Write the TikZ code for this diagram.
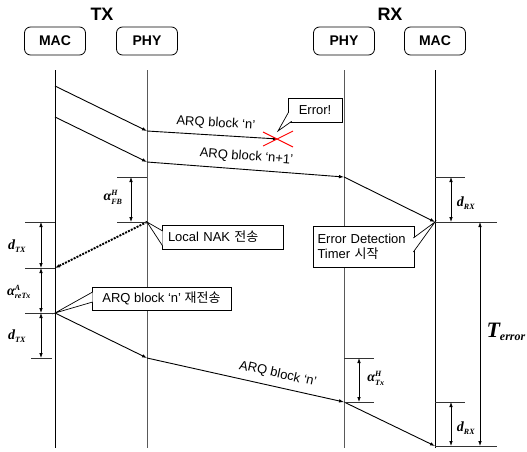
\documentclass[tikz,border=0pt]{standalone}
\usepackage{fontspec}
\setmainfont{Liberation Sans}
\newfontfamily\kr{Noto Sans CJK KR}
\newfontfamily\tms{Liberation Serif}
\usetikzlibrary{arrows.meta,positioning,calc}
\newcommand{\pointer}[3]{%
  \fill[white] (#1) -- (#3) -- (#2) -- cycle;
  \draw[line width=0.7pt] (#1) -- (#3) -- (#2);}
\newcommand{\sml}[1]{\mbox{\fontsize{8}{9}\selectfont\tms\bfseries\itshape #1}}
\newcommand{\dly}[3]{$\mbox{\tms\bfseries\itshape #1}^{\sml{#2}}_{\sml{#3}}$}

\begin{document}
\begin{tikzpicture}[x=1pt,y=-1pt,>={Latex[length=5pt,width=3.6pt]},
  font=\fontsize{13}{15}\selectfont,
  hdr/.style={draw,line width=0.8pt,rounded corners=6pt,minimum width=61pt,minimum height=28pt,font=\fontsize{14}{16}\selectfont\bfseries},
  msg/.style={->,line width=0.9pt},
  tickline/.style={line width=0.7pt,black!80},
  dimline/.style={<->,line width=0.8pt},
  note/.style={draw,fill=white,line width=0.7pt,inner sep=4pt,align=left},
  mlab/.style={font=\fontsize{14}{16}\selectfont,inner sep=1pt}]
\useasboundingbox (0,0) rectangle (527,452);
% titles and entities
\node[font=\fontsize{18}{20}\selectfont\bfseries] (tx) at (102,14) {TX};
\node[font=\fontsize{18}{20}\selectfont\bfseries] (rx) at (390,14) {RX};
\node[hdr] (tmac) at (55,41) {MAC};
\node[hdr] (tphy) at (147,41) {PHY};
\node[hdr] (rphy) at (344,41) {PHY};
\node[hdr] (rmac) at (435,41) {MAC};
% lifelines
\coordinate (bot) at (0,448);
\foreach \n/\c in {tmac/black,tphy/black!65,rphy/black!65,rmac/black}
  \draw[line width=0.8pt,\c] ($(\n.south)+(0,15)$) -- (\n |- bot);
% events on the lifelines
\coordinate (a1) at (55,86);   \coordinate (b1) at (147,131);
\coordinate (a2) at (55,117);  \coordinate (b2) at (147,162);
\coordinate (lost) at (278,139);
\coordinate (c2) at (344,177); \coordinate (d2) at (435,222);
\coordinate (b3) at (147,222); \coordinate (a3) at (55,268);
\coordinate (a4) at (55,313);  \coordinate (b4) at (147,358);
\coordinate (c4) at (344,402); \coordinate (d4) at (435,446);
% callouts
\node[note,minimum width=54pt,minimum height=24pt] (errn) at (315,110) {Error!};
\pointer{$(errn.west)+(1,2)$}{$(errn.south west)+(4,-1)$}{$(lost)+(0,-8)$}
\node[note,minimum width=121pt,minimum height=24pt,text width=109pt] (nak) at (222.5,237) {Local NAK {\kr 전송}};
\pointer{$(nak.west)+(1,-6)$}{$(nak.west)+(1,9)$}{b3}
\node[note,minimum width=101pt,minimum height=41pt,text width=92pt] (edt) at (363.5,246.5) {Error Detection\\Timer {\kr 시작}};
\pointer{$(edt.east)+(-1,-8.5)$}{$(edt.east)+(-1,5.5)$}{d2}
\node[note,minimum width=139pt,minimum height=23pt] (rtx) at (161.5,298.5) {ARQ block ‘n’ {\kr 재전송}};
\pointer{$(rtx.west)+(1,-6.5)$}{$(rtx.west)+(1,3.5)$}{a4}
% messages
\draw[msg] (a1) -- (b1);
\draw[msg] (b1) -- (lost) node[pos=0.52,above=2pt,sloped] (lbl1) {ARQ block ‘n’};
\draw[msg] (a2) -- (b2);
\draw[msg] (b2) -- (c2) node[pos=0.5,above=3pt,sloped] (lbl2) {ARQ block ‘n+1’};
\draw[msg] (c2) -- (d2);
\draw[->,line width=1.8pt,dash pattern=on 2pt off 1.2pt] (b3) -- (a3);
\draw[msg] (a4) -- (b4);
\draw[msg] (b4) -- (c4) node[pos=0.65,above=3pt,sloped] (lbl3) {ARQ block ‘n’};
\draw[msg] (c4) -- (d4);
\draw[red,line width=0.9pt] ($(lost)+(-15,-7)$) -- ($(lost)+(15,8)$)
  ($(lost)+(-15,7)$) -- ($(lost)+(15,-8)$);
% delays at TX
\draw[tickline] ($(b2|-c2)+(-30,0)$) -- (b2|-c2);
\draw[tickline] ($(b3)+(-30,0)$) -- (b3);
\draw[dimline] ($(b2|-c2)+(-16,0)$) -- ($(b3)+(-16,0)$);
\node[mlab] (afb) at (113,197) {\dly{α}{H}{FB}};
\draw[tickline] ($(a1|-b3)+(-30,0)$) -- (a1|-b3);
\draw[tickline] ($(a3)+(-30,0)$) -- (a3);
\draw[tickline] ($(a4)+(-30,0)$) -- (a4);
\draw[tickline] ($(a1|-b4)+(-24,0)$) -- ($(a1|-b4)+(-3,0)$);
\draw[dimline] ($(a1|-b3)+(-14,0)$) -- ($(a3)+(-14,0)$);
\draw[dimline] ($(a3)+(-14,0)$) -- ($(a4)+(-14,0)$);
\draw[dimline] ($(a4)+(-14,0)$) -- ($(a1|-b4)+(-14,0)$);
\node[mlab] (dtx1) at (17,246) {\dly{d}{}{TX}};
\node[mlab] (artx) at (19,292) {\dly{α}{A}{reTx}};
\node[mlab] (dtx2) at (17,336) {\dly{d}{}{TX}};
% delays at RX
\draw[tickline] (d2|-c2) -- ++(30,0);
\draw[tickline] (d2) -- ++(62,0);
\draw[tickline] (d2|-c4) -- ++(30,0);
\draw[tickline] (d4) -- ++(62,0);
\draw[tickline] (c4|-b4) -- ++(30,0);
\draw[tickline] (c4) -- ++(30,0);
\draw[dimline] ($(d2|-c2)+(16,0)$) -- ($(d2)+(16,0)$);
\draw[dimline] ($(d2|-c4)+(16,0)$) -- ($(d4)+(16,0)$);
\draw[dimline] ($(d2)+(45,0)$) -- ($(d4)+(45,0)$);
\draw[dimline] ($(c4|-b4)+(15,0)$) -- ($(c4)+(15,0)$);
\node[mlab] (drx1) at (466,203) {\dly{d}{}{RX}};
\node[mlab] (drx2) at (466,428) {\dly{d}{}{RX}};
\node[mlab] (atx) at (376,378) {\dly{α}{H}{Tx}};
\node[font=\fontsize{22}{24}\selectfont,anchor=east,inner sep=0pt] (terr) at (526,332)
  {$\mbox{\tms\bfseries\itshape T}_{\mbox{\fontsize{12}{13}\selectfont\tms\bfseries\itshape error}}$};
\end{tikzpicture}
\end{document}
